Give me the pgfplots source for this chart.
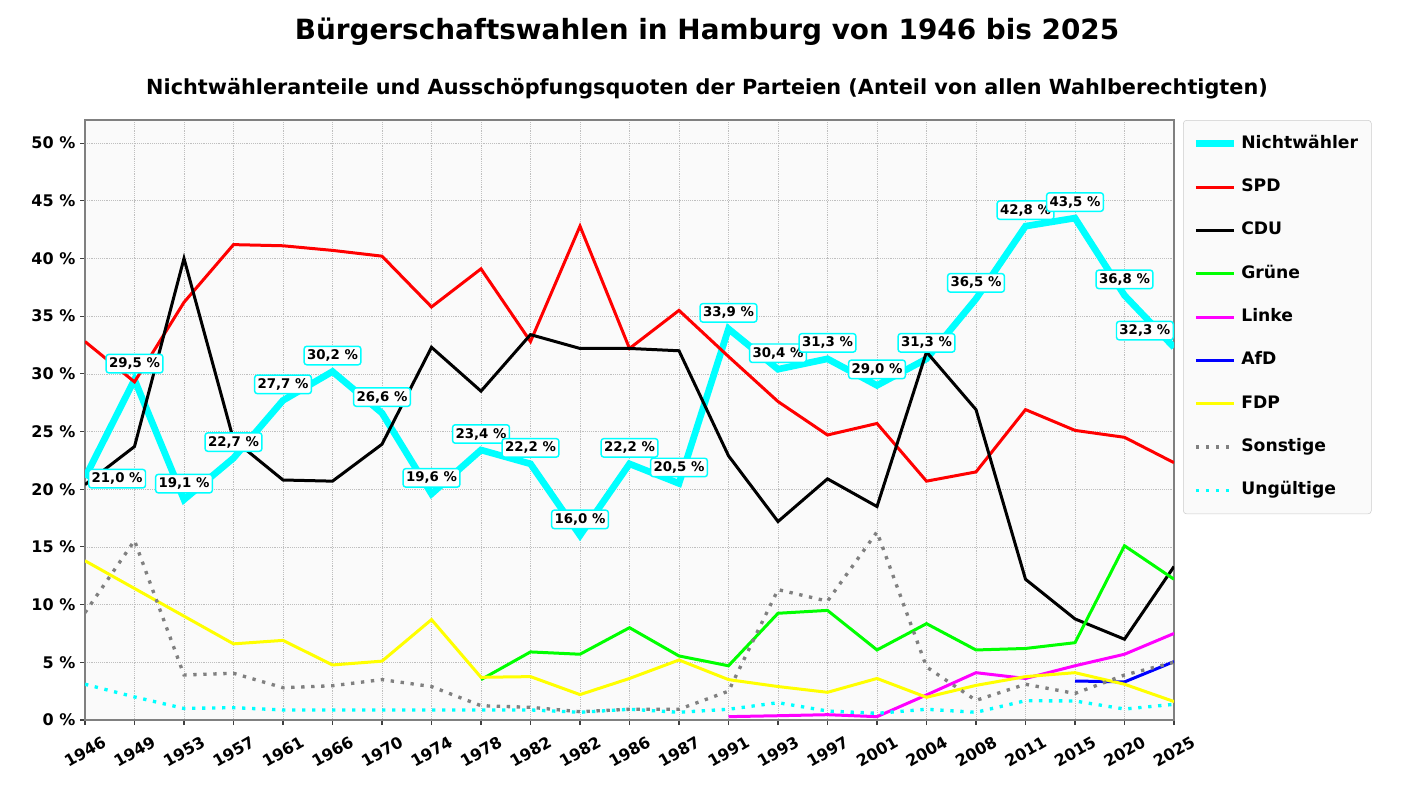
\documentclass[border=0pt]{standalone}
\usepackage{fontspec}
\setmainfont{DejaVu Sans}
\usepackage{pgfplots}
\usepackage{pgfplotstable}
\pgfplotsset{compat=1.18}

\definecolor{cCyan}{RGB}{0,255,255}
\definecolor{cRed}{RGB}{255,0,0}
\definecolor{cGreen}{RGB}{0,255,0}
\definecolor{cMag}{RGB}{255,0,255}
\definecolor{cBlue}{RGB}{0,0,255}
\definecolor{cYel}{RGB}{255,255,0}
\definecolor{cGray}{RGB}{128,128,128}
\definecolor{cBg}{RGB}{250,250,250}

\pgfplotstableread{
x nw spd cdu gru lin afd fdp son ung
0 21.0 32.8 20.4 nan nan nan 13.8 9.3 3.1
1 29.5 29.3 23.7 nan nan nan 11.4 15.55 2.0
2 19.1 36.2 40.0 nan nan nan 9.0 3.9 1.0
3 22.7 41.2 24.3 nan nan nan 6.6 4.05 1.07
4 27.7 41.1 20.8 nan nan nan 6.9 2.8 0.87
5 30.2 40.7 20.7 nan nan nan 4.77 2.97 0.87
6 26.6 40.2 23.9 nan nan nan 5.1 3.5 0.87
7 19.6 35.8 32.3 nan nan nan 8.7 2.9 0.87
8 23.4 39.1 28.5 3.5 nan nan 3.7 1.24 0.87
9 22.2 32.8 33.4 5.9 nan nan 3.76 1.1 0.87
10 16.0 42.8 32.2 5.7 nan nan 2.2 0.72 0.67
11 22.2 32.2 32.2 8.0 nan nan 3.6 0.93 0.93
12 20.5 35.5 32.0 5.55 nan nan 5.2 0.93 0.67
13 33.9 31.5 22.9 4.7 0.29 nan 3.5 2.5 0.93
14 30.4 27.6 17.2 9.25 0.37 nan 2.9 11.3 1.5
15 31.3 24.7 20.9 9.5 0.46 nan 2.4 10.3 0.78
16 29.0 25.7 18.5 6.07 0.29 nan 3.6 16.3 0.58
17 31.3 20.7 31.9 8.35 2.17 nan 1.97 4.6 0.93
18 36.5 21.5 26.9 6.07 4.1 nan 3.0 1.7 0.67
19 42.8 26.9 12.2 6.2 3.6 nan 3.76 3.1 1.67
20 43.5 25.1 8.76 6.7 4.7 3.38 4.1 2.3 1.65
21 36.8 24.5 7.0 15.1 5.7 3.3 3.1 3.9 0.95
22 32.3 22.3 13.3 12.2 7.5 5.06 1.6 5.0 1.36
}\datatable

\tikzset{labelbox/.style={draw=cCyan, fill=white, line width=1.1pt, rounded corners=2pt,
  inner xsep=2.2pt, inner ysep=2.5pt, text=black, font=\fontsize{10}{12}\selectfont\bfseries}}

\begin{document}
\begin{tikzpicture}
\path[use as bounding box] (0pt,0pt) rectangle (1060.5pt,600pt);
\node[font=\fontsize{20.9}{25}\selectfont\bfseries] at (530.25pt,576.5pt) {Bürgerschaftswahlen in Hamburg von 1946 bis 2025};
\node[font=\fontsize{15.6}{19}\selectfont\bfseries] at (530.25pt,533.5pt) {Nichtwähleranteile und Ausschöpfungsquoten der Parteien (Anteil von allen Wahlberechtigten)};
\begin{axis}[
  at={(63.75pt,60pt)}, anchor=south west,
  scale only axis, width=816.75pt, height=450pt,
  xmin=0, xmax=22, ymin=0, ymax=52,
  xtick={0,...,22},
  xticklabels={1946,1949,1953,1957,1961,1966,1970,1974,1978,1982,1982,1986,1987,1991,1993,1997,2001,2004,2008,2011,2015,2020,2025},
  ytick={0,5,...,50},
  yticklabels={0 \%,5 \%,10 \%,15 \%,20 \%,25 \%,30 \%,35 \%,40 \%,45 \%,50 \%},
  tick align=outside, tick pos=left,
  major tick length=3.75pt,
  tick style={black!75, line width=0.8pt},
  axis line style={black!50, line width=0.8pt},
  grid=major,
  major grid style={densely dotted, black!25, line width=0.5pt},
  axis background/.style={fill=cBg},
  ticklabel style={font=\fontsize{12}{14}\selectfont\bfseries},
  xticklabel style={yshift=-20pt, rotate=30, anchor=center},
  legend style={at={(1.0083,1)}, anchor=north west, draw=black!20, fill=cBg,
    rounded corners=2.5pt, font=\fontsize{12.9}{15}\selectfont\bfseries,
    inner xsep=7pt, inner ysep=8.5pt, row sep=14.3pt,
    nodes={text height=9.5pt, text depth=2.7pt, inner sep=3pt}},
  legend cell align=left,
  legend image code/.code={\draw[#1] (0pt,0pt) -- (28.5pt,0pt);},
]
\addplot[cCyan, line width=5pt] table[x=x,y=nw]{\datatable};
\addlegendentry{Nichtwähler}
\addplot[cRed, line width=2.25pt] table[x=x,y=spd]{\datatable};
\addlegendentry{SPD}
\addplot[black, line width=2.25pt] table[x=x,y=cdu]{\datatable};
\addlegendentry{CDU}
\addplot[cGreen, line width=2.25pt] table[x=x,y=gru]{\datatable};
\addlegendentry{Grüne}
\addplot[cMag, line width=2.25pt] table[x=x,y=lin]{\datatable};
\addlegendentry{Linke}
\addplot[cBlue, line width=2.25pt] table[x=x,y=afd]{\datatable};
\addlegendentry{AfD}
\addplot[cYel, line width=2.25pt] table[x=x,y=fdp]{\datatable};
\addlegendentry{FDP}
\addplot[cGray, line width=2.5pt, line cap=butt, dash pattern=on 2.5pt off 5pt] table[x=x,y=son]{\datatable};
\addlegendentry{Sonstige}
\addplot[cCyan, line width=2.5pt, line cap=butt, dash pattern=on 2.5pt off 5pt] table[x=x,y=ung]{\datatable};
\addlegendentry{Ungültige}
% labels
\addplot[draw=none, mark=none, forget plot, point meta=y,
  skip coords between index={0}{1}, skip coords between index={22}{23},
  nodes near coords={\pgfmathprintnumber[fixed,fixed zerofill,precision=1,use comma,assume math mode=true]{\pgfplotspointmeta}~\%},
  nodes near coords style={labelbox, anchor=center, yshift=12pt}]
  table[x=x,y=nw]{\datatable};
\addplot[draw=none, mark=none, forget plot, point meta=y,
  skip coords between index={1}{23},
  nodes near coords={\pgfmathprintnumber[fixed,fixed zerofill,precision=1,use comma,assume math mode=true]{\pgfplotspointmeta}~\%},
  nodes near coords style={labelbox, anchor=west, xshift=2.25pt, yshift=-0.75pt}]
  table[x=x,y=nw]{\datatable};
\addplot[draw=none, mark=none, forget plot, point meta=y,
  skip coords between index={0}{22},
  nodes near coords={\pgfmathprintnumber[fixed,fixed zerofill,precision=1,use comma,assume math mode=true]{\pgfplotspointmeta}~\%},
  nodes near coords style={labelbox, anchor=east, yshift=12.5pt}]
  table[x=x,y=nw]{\datatable};
\end{axis}
\end{tikzpicture}
\end{document}
